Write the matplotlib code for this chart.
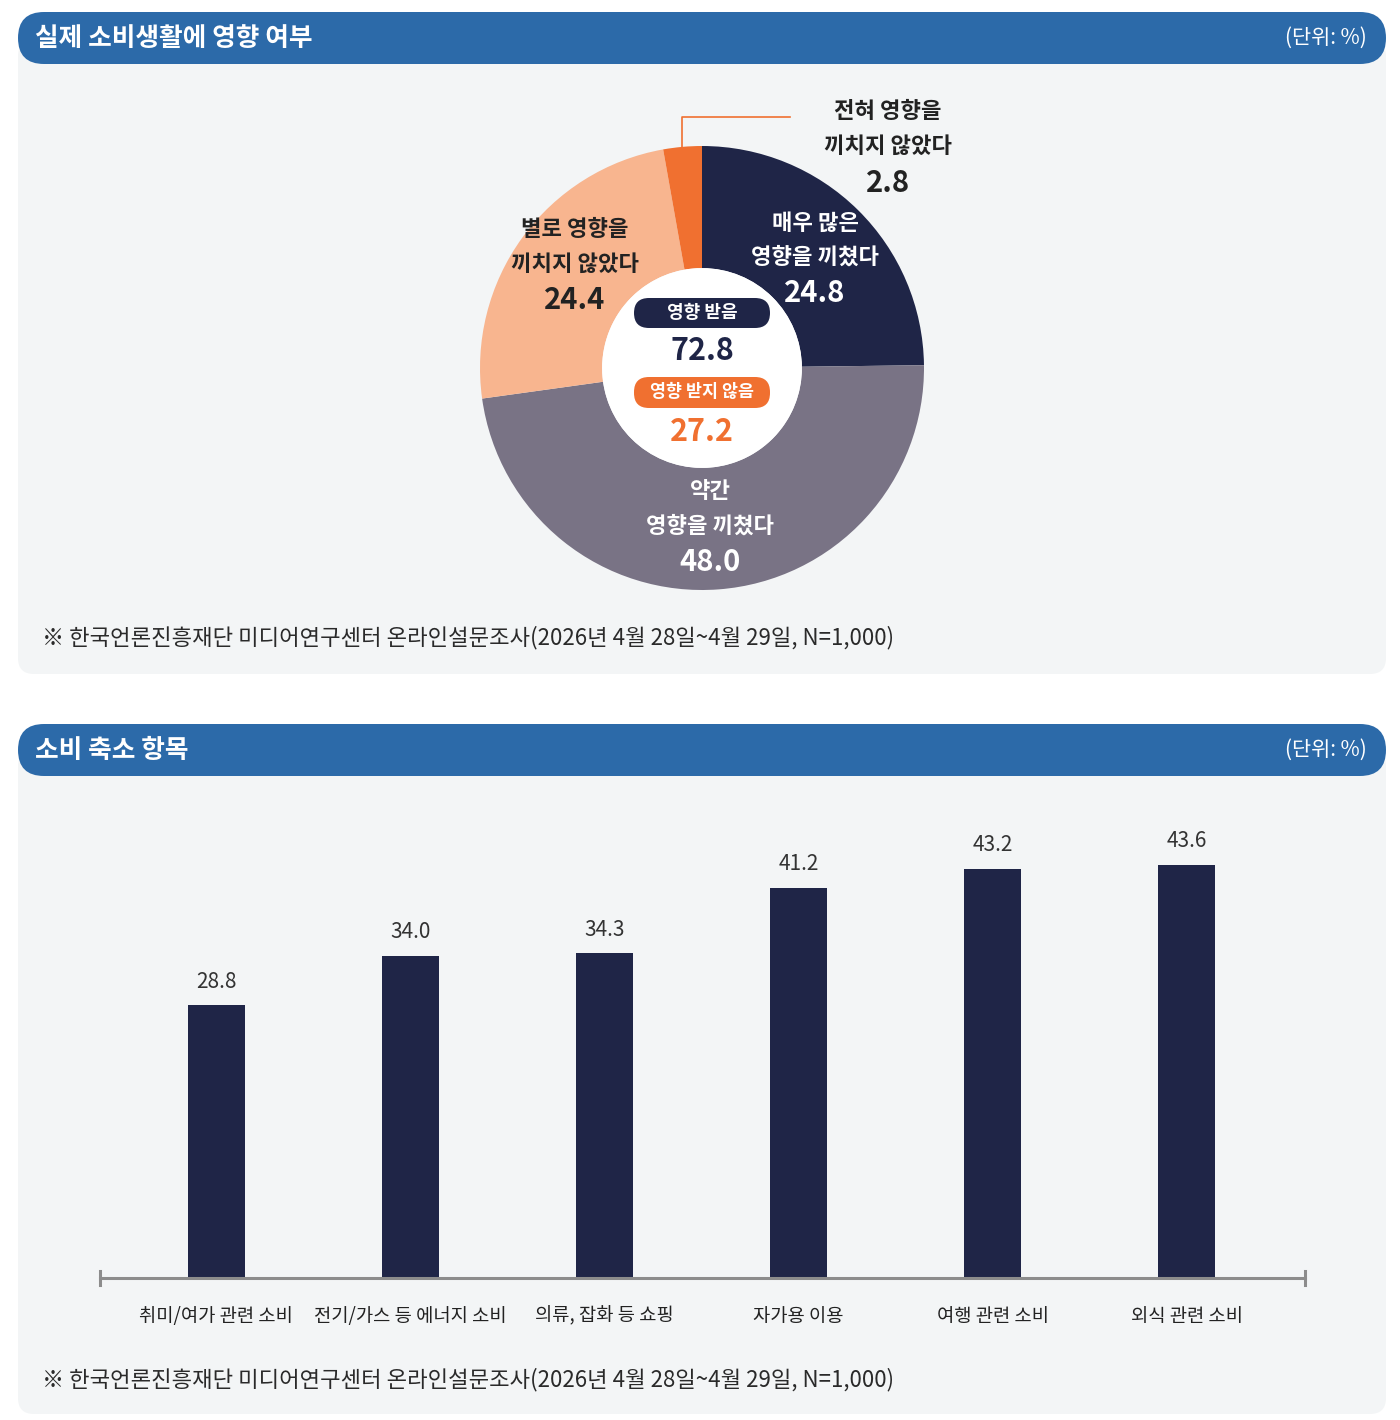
import numpy as np
import matplotlib.pyplot as plt
from matplotlib.patches import FancyBboxPatch, Circle

plt.rcParams['font.family'] = ['Noto Sans CJK KR', 'DejaVu Sans']

# ---------------------------------------------
# data
pie_labels = ['매우 많은\n영향을 끼쳤다', '약간\n영향을 끼쳤다',
              '별로 영향을\n끼치지 않았다', '전혀 영향을\n끼치지 않았다']
pie_values = [24.8, 48.0, 24.4, 2.8]
affected_label = '영향 받음'
affected = 72.8
not_affected_label = '영향 받지 않음'
not_affected = 27.2

bar_cats = ['취미/여가 관련 소비', '전기/가스 등 에너지 소비', '의류, 잡화 등 쇼핑',
            '자가용 이용', '여행 관련 소비', '외식 관련 소비']
bar_values = [28.8, 34.0, 34.3, 41.2, 43.2, 43.6]

title_top = '실제 소비생활에 영향 여부'
title_bottom = '소비 축소 항목'
unit_text = '(단위: %)'
source_text = '※ 한국언론진흥재단 미디어연구센터 온라인설문조사(2026년 4월 28일~4월 29일, N=1,000)'

# ---------------------------------------------
# styles
BLUE = '#2c6aa9'
PANEL = '#f3f5f6'
NAVY = '#1f2547'
GREY = '#797385'
PEACH = '#f8b58f'
ORANGE = '#f07030'
DARK = '#222222'
pie_colors = [NAVY, GREY, PEACH, ORANGE]
pie_text_colors = ['white', 'white', DARK, DARK]

W, H = 1400, 1420
fig = plt.figure(figsize=(W / 100, H / 100), dpi=100)
fig.patch.set_facecolor('white')


def px_axes(x0, y0, x1, y1):
    return fig.add_axes([x0 / W, 1 - y1 / H, (x1 - x0) / W, (y1 - y0) / H])


def rbox(ax, x0, y0, x1, y1, r, color):
    ax.add_patch(FancyBboxPatch((x0, y0), x1 - x0, y1 - y0,
                                boxstyle=f'round,pad=0,rounding_size={r}',
                                facecolor=color, edgecolor='none'))


# background panels
bg = px_axes(0, 0, W, H)
bg.set_xlim(0, W)
bg.set_ylim(H, 0)
bg.axis('off')

for (hy, py0, py1, title) in [(12, 40, 674, title_top), (724, 750, 1414, title_bottom)]:
    rbox(bg, 18, py0, 1386, py1, 16, PANEL)
    rbox(bg, 18, hy, 1386, hy + 52, 26, BLUE)
    bg.text(35, hy + 26, title, color='white', fontsize=18.5, fontweight='bold',
            ha='left', va='center')
    bg.text(1367, hy + 26, unit_text, color='white', fontsize=15,
            ha='right', va='center')

# ---------------------------------------------
# donut
cx, cy, R = 702, 368, 222
ax_pie = px_axes(cx - R, cy - R, cx + R, cy + R)
wedges, _ = ax_pie.pie(pie_values, colors=pie_colors, startangle=90, counterclock=False,
                       radius=1, wedgeprops=dict(width=0.55, linewidth=0))
ax_pie.add_patch(Circle((0, 0), 0.45, facecolor='white', edgecolor='none'))
ax_pie.set_xlim(-1, 1)
ax_pie.set_ylim(-1, 1)
ax_pie.set_aspect('auto')
ax_pie.axis('off')

# ---------------------------------------------
# bars
ax_bar = px_axes(100, 790, 1305, 1278)
x = np.arange(len(bar_values))
ax_bar.bar(x, bar_values, width=0.294, color=NAVY)
for xi, v in zip(x, bar_values):
    ax_bar.annotate(f'{v:.1f}', (xi, v), xytext=(0, 17), textcoords='offset points',
                    ha='center', va='center', fontsize=15, color='#333333')
ax_bar.set_xlim(-(216 - 100) / 194, 5 + (1305 - 1187) / 194)
ax_bar.set_ylim(0, 488 / 9.47)
ax_bar.set_facecolor('none')
for s in ['top', 'left', 'right']:
    ax_bar.spines[s].set_visible(False)
ax_bar.spines['bottom'].set_color('#8c8c8c')
ax_bar.spines['bottom'].set_linewidth(2.2)
ax_bar.set_yticks([])
ax_bar.set_xticks(x)
ax_bar.set_xticklabels(bar_cats, fontsize=13.5, color=DARK)
ax_bar.tick_params(axis='x', length=0, pad=20)

# ---------------------------------------------
# overlay for labels
ov = px_axes(0, 0, W, H)
ov.set_xlim(0, W)
ov.set_ylim(H, 0)
ov.axis('off')

# axis end marks
for ex in [100, 1305]:
    ov.plot([ex, ex], [1271, 1285], color='#8c8c8c', lw=2.2)

# donut labels
label_pos = [(815, 223, 34, 293), (710, 491, 35, 562), (575, 230, 34, 300), (888, 112, 34, 183)]
for lab, val, col, (lx, ly, gap, ny) in zip(pie_labels, pie_values, pie_text_colors, label_pos):
    for k, line in enumerate(lab.split('\n')):
        ov.text(lx, ly + k * gap, line, ha='center', va='center', fontsize=16,
                fontweight='bold', color=col)
    ov.text(lx, ny, f'{val:.1f}', ha='center', va='center', fontsize=21,
            fontweight='bold', color=col)

# leader line for the small slice
w = wedges[3]
mid = np.deg2rad((w.theta1 + w.theta2) / 2)
lx0 = cx + R * np.cos(mid)
ly0 = cy - R * np.sin(mid) + 2
ov.plot([lx0, lx0, 790], [ly0, 117, 117], color=ORANGE, lw=1.2)

# centre summary
rbox(ov, 634, 298, 770, 328, 15, NAVY)
ov.text(702, 313, affected_label, color='white', fontsize=13, fontweight='bold',
        ha='center', va='center')
ov.text(702, 351, f'{affected:.1f}', color=NAVY, fontsize=22, fontweight='bold',
        ha='center', va='center')
rbox(ov, 634, 377, 770, 408, 15, ORANGE)
ov.text(702, 392, not_affected_label, color='white', fontsize=12.5, fontweight='bold',
        ha='center', va='center')
ov.text(702, 432, f'{not_affected:.1f}', color=ORANGE, fontsize=22, fontweight='bold',
        ha='center', va='center')

# sources
for sy in [638, 1380]:
    ov.text(42, sy, source_text, fontsize=16, color='#2a2a2a', ha='left', va='center')

fig.savefig('out.png', dpi=100)
